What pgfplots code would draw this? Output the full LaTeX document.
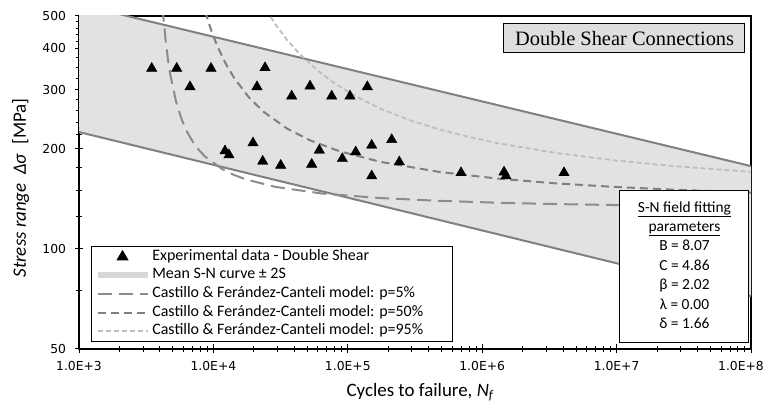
\documentclass[border=0pt]{standalone}
\usepackage{pgfplots}
\pgfplotsset{compat=1.18}
\usepackage{fontspec}
\setmainfont{Carlito}
\newfontfamily\tickfont{DejaVu Sans}
\newfontfamily\titlefont{Liberation Serif}
\definecolor{bandfill}{RGB}{226,226,226}
\definecolor{bandline}{RGB}{128,128,128}
\definecolor{cfA}{RGB}{140,140,140}
\definecolor{cfB}{RGB}{128,128,128}
\definecolor{cfC}{RGB}{190,190,190}
\definecolor{legband}{RGB}{215,215,215}
\definecolor{titlegray}{RGB}{222,222,222}
\begin{document}
\begin{tikzpicture}
\begin{axis}[
  scale only axis, width=672bp, height=333bp,
  xmode=log, ymode=log,
  xmin=1e3, xmax=1e8, ymin=50, ymax=500,
  axis line style={line width=1.1bp},
  xtick={1e3,1e4,1e5,1e6,1e7,1e8},
  xticklabels={1.0E+3,1.0E+4,1.0E+5,1.0E+6,1.0E+7,\hspace*{-20bp}1.0E+8},
  ytick={50,100,200,300,400,500},
  yticklabels={50,100,200,300,400,500},
  minor xtick={2e3,3e3,4e3,5e3,6e3,7e3,8e3,9e3,2e4,3e4,4e4,5e4,6e4,7e4,8e4,9e4,2e5,3e5,4e5,5e5,6e5,7e5,8e5,9e5,2e6,3e6,4e6,5e6,6e6,7e6,8e6,9e6,2e7,3e7,4e7,5e7,6e7,7e7,8e7,9e7},
  minor ytick={75,125,150,175,220,240,260,280,325,350,375,420,440,460,480},
  tick align=center, xtick pos=left, ytick pos=left,
  major tick length=9bp, minor tick length=6bp,
  every tick/.style={black, line width=1bp},
  ticklabel style={font=\tickfont\fontsize{12.4}{12.4}\selectfont},
  xticklabel style={yshift=-4bp},
  yticklabel style={xshift=-5bp},
  xlabel={Cycles to failure, \textit{N}\textsubscript{\textit{f}}},
  ylabel={\textit{Stress range}\ \ \textit{Δσ}\ \ [MPa]},
  label style={font=\fontsize{19}{19}\selectfont},
  xlabel style={at={(axis description cs:0.508,0)}, anchor=base, yshift=-47.7bp},
  ylabel style={at={(axis description cs:-0.0789,0.4835)}, anchor=base},
  clip mode=individual,
  legend image code/.code={\draw[mark repeat=2,mark phase=2,#1] plot coordinates {(0bp,0bp) (25bp,0bp) (50bp,0bp)};},
  legend cell align=left,
  legend style={at={(0.0179,0.021)}, anchor=south west, draw=black, line width=1bp,
    font=\fontsize{16}{19}\selectfont, inner xsep=3bp, inner ysep=1bp, row sep=0bp,
    nodes={inner sep=1.8bp, text height=11bp, text depth=4bp}},
]
\addlegendimage{only marks, mark=triangle*, mark size=6bp, black}
\addlegendentry{Experimental data - Double Shear}
\addlegendimage{legband, line width=6bp}
\addlegendentry{Mean S-N curve ± 2S}
\addlegendimage{cfA, line width=2bp, dash pattern=on 14bp off 7bp}
\addlegendentry{Castillo \& Ferández-Canteli model: p=5\%}
\addlegendimage{cfB, line width=2bp, dash pattern=on 8bp off 5bp}
\addlegendentry{Castillo \& Ferández-Canteli model: p=50\%}
\addlegendimage{cfC, line width=1.8bp, dash pattern=on 5bp off 3bp}
\addlegendentry{Castillo \& Ferández-Canteli model: p=95\%\hspace*{24bp}}

% band
\addplot[fill=bandfill, draw=none, forget plot] coordinates {(1e3,541.7) (1e8,177.1) (1e8,72.1) (1e3,224.1) (1e3,541.7)};
\addplot[bandline, line width=2bp, forget plot] coordinates {(1e3,541.7) (1e8,177.1)};
\addplot[bandline, line width=2bp, forget plot] coordinates {(1e3,224.1) (1e8,72.1)};

% p=5%
\addplot[cfA, line width=2bp, dash pattern=on 14bp off 7bp, forget plot] coordinates {
(4188,530) (4230,504.0) (4403,425.0) (4583,372.3) (4769,334.9) (5271,276.7) (5826,243.6) (6438,222.5) (7115,207.9) (7864,197.2) (8690,189.0) (11731,173.0) (14329,166.4) (17501,161.5) (28854,153.4) (64215,146.5) (174555,142.0) (474488,139.3) (1289793,137.5) (3506021,136.2) (9530355,135.3) (25906187,134.6) (1e8,133.9)};
% p=50%
\addplot[cfB, line width=2bp, dash pattern=on 8bp off 5bp, forget plot] coordinates {
(8690,515.2) (9604,454.3) (10615,409.0) (12333,359.8) (14329,324.8) (18398,284.6) (23623,257.8) (35242,229.7) (52574,211.5) (86680,196.3) (174555,182.4) (474488,170.2) (1289793,162.5) (3506021,157.2) (9530355,153.4) (25906187,150.5) (1e8,147.5)};
% p=95%
\addplot[cfC, line width=1.8bp, dash pattern=on 5bp off 3bp, forget plot] coordinates {
(24834,520.1) (28854,473.0) (35242,424.4) (43043,387.3) (58102,345.6) (78435,315.2) (117006,285.4) (174555,263.6) (287800,243.5) (474488,228.5) (782312,217.0) (1289793,207.7) (3506021,194.1) (9530355,184.4) (25906187,177.3) (1e8,170.1)};

% experimental data
\addplot[only marks, mark=triangle*, mark size=6bp, black, forget plot] coordinates {
(3475,348) (5333,348) (6697,306.4) (9597,348) (12200,196.6) (13060,191.3) (19710,207.8) (21100,306.4) (24210,349.6) (23270,183.1) (31680,178.0) (38240,287.3) (52330,307.9) (53870,179.3) (61380,197.6) (75900,287.3) (91000,186.4) (103800,287.3) (114500,195.2) (139700,306.4) (150600,204.5) (150600,165.4) (212200,212.6) (241600,182.2) (695800,169.1) (1453000,169.9) (1503000,165.4) (4061000,169.1)};

% title box
\draw[fill=titlegray, line width=1bp] (rel axis cs:0.6324,0.889) rectangle (rel axis cs:0.991,0.976);
\node[font=\titlefont\fontsize{20.5}{20.5}\selectfont] at (rel axis cs:0.812,0.9325) {Double Shear Connections};

% parameter box
\draw[fill=white, line width=1bp] (rel axis cs:0.805,0.021) rectangle (rel axis cs:0.997,0.477);
\node[align=center, font=\fontsize{15.5}{19.5}\selectfont] at (rel axis cs:0.901,0.252) {\underline{S-N field fitting}\\ \underline{parameters}\\ B = 8.07\\ C = 4.86\\ β = 2.02\\ λ = 0.00\\ δ = 1.66};
\end{axis}
\pgfresetboundingbox
\path ([shift={(-79bp,-54bp)}]current axis.south west) rectangle ([shift={(14bp,16bp)}]current axis.north east);
\end{tikzpicture}
\end{document}
